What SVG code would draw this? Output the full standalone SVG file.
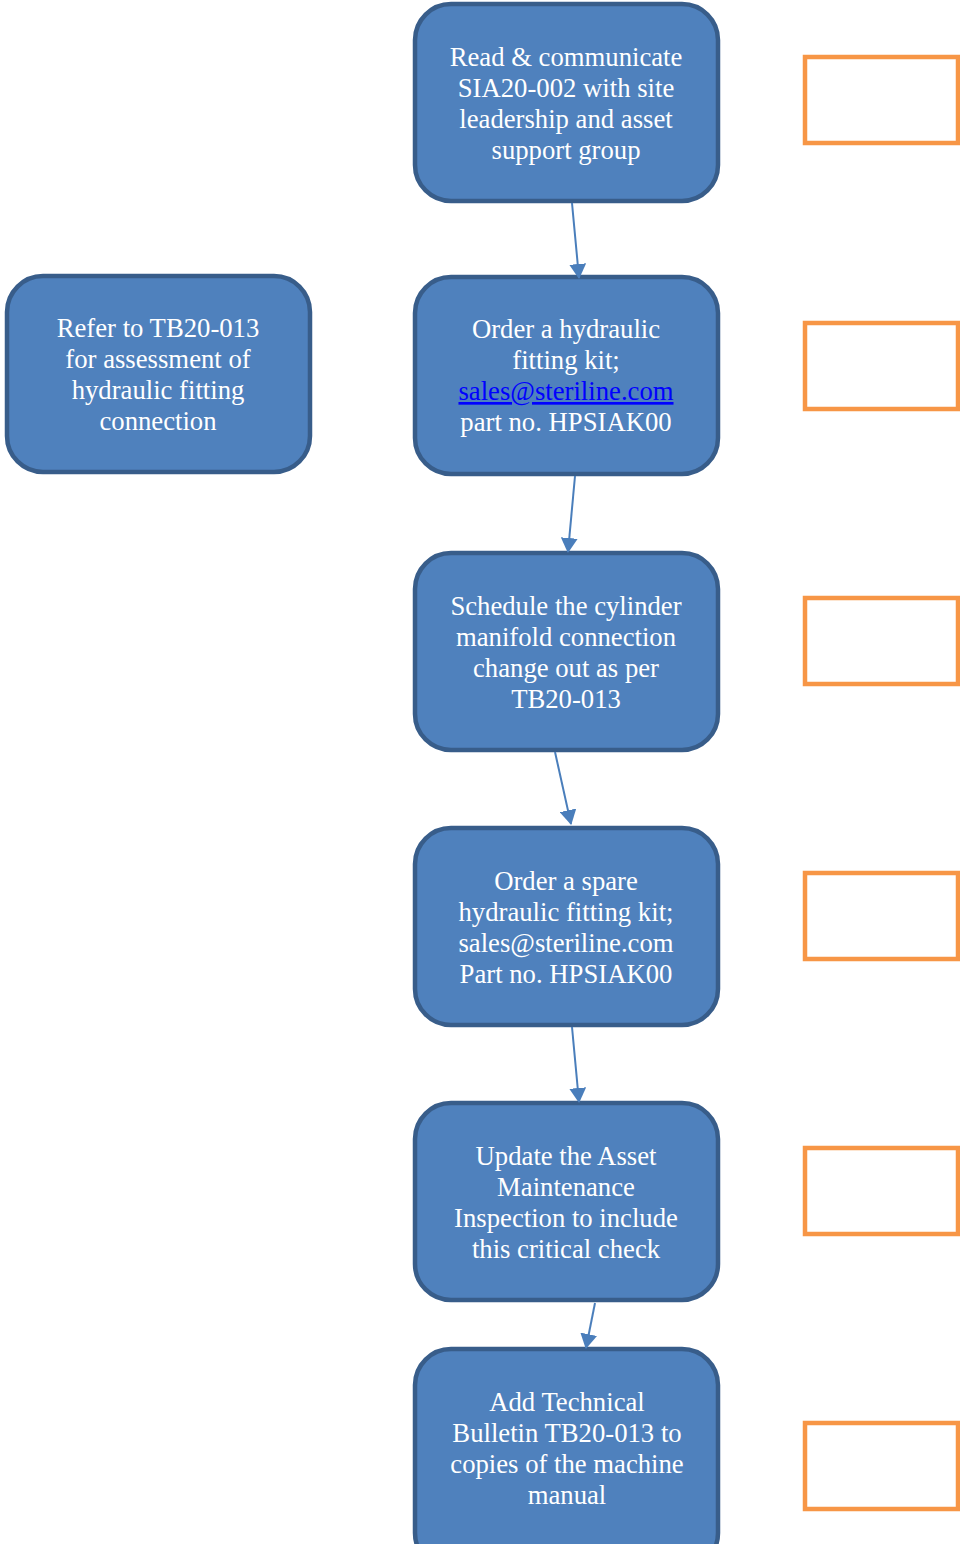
<svg xmlns="http://www.w3.org/2000/svg" width="960" height="1544" viewBox="0 0 960 1544">
<defs>
<style>
.node rect{fill:#4F81BD;stroke:#385D8A;stroke-width:4.5}
.node text{font-family:"Liberation Serif","Times New Roman",serif;font-size:26.7px;fill:#FFFFFF;text-anchor:middle}
.node text.link{fill:#0000FF;text-decoration:underline}
.box{fill:none;stroke:#F79646;stroke-width:4.5}
.conn line{stroke:#4A7EBB;stroke-width:2;fill:none}
</style>
<marker id="ah" viewBox="0 0 15 17" refX="14" refY="8.5" markerWidth="15" markerHeight="17" markerUnits="userSpaceOnUse" orient="auto">
<path d="M0,0 L15,8.5 L0,17 z" fill="#4A7EBB"/>
</marker>
</defs>
<rect width="960" height="1544" fill="#FFFFFF"/>

<g id="n1" class="node">
<rect x="415" y="4" width="303" height="197" rx="36"/>
<text x="566" y="66">Read &amp; communicate</text>
<text x="566" y="97">SIA20-002 with site</text>
<text x="566" y="128">leadership and asset</text>
<text x="566" y="159">support group</text>
</g>

<g id="n2" class="node">
<rect x="415" y="277" width="303" height="197" rx="36"/>
<text x="566" y="338">Order a hydraulic</text>
<text x="566" y="369">fitting kit;</text>
<text x="566" y="400" class="link">sales@steriline.com</text>
<text x="566" y="431">part no. HPSIAK00</text>
</g>

<g id="n3" class="node">
<rect x="415" y="553" width="303" height="197" rx="36"/>
<text x="566" y="615">Schedule the cylinder</text>
<text x="566" y="646">manifold connection</text>
<text x="566" y="677">change out as per</text>
<text x="566" y="708">TB20-013</text>
</g>

<g id="n4" class="node">
<rect x="415" y="828" width="303" height="197" rx="36"/>
<text x="566" y="890">Order a spare</text>
<text x="566" y="921">hydraulic fitting kit;</text>
<text x="566" y="952">sales@steriline.com</text>
<text x="566" y="983">Part no. HPSIAK00</text>
</g>

<g id="n5" class="node">
<rect x="415" y="1103" width="303" height="197" rx="36"/>
<text x="566" y="1165">Update the Asset</text>
<text x="566" y="1196">Maintenance</text>
<text x="566" y="1227">Inspection to include</text>
<text x="566" y="1258">this critical check</text>
</g>

<g id="n6" class="node">
<rect x="415" y="1349" width="303" height="220" rx="36"/>
<text x="567" y="1411">Add Technical</text>
<text x="567" y="1442">Bulletin TB20-013 to</text>
<text x="567" y="1473">copies of the machine</text>
<text x="567" y="1504">manual</text>
</g>

<g id="n7" class="node">
<rect x="7" y="276" width="303" height="196" rx="36"/>
<text x="158" y="337">Refer to TB20-013</text>
<text x="158" y="368">for assessment of</text>
<text x="158" y="399">hydraulic fitting</text>
<text x="158" y="430">connection</text>
</g>

<g id="o1"><rect class="box" x="805" y="57" width="153" height="86"/></g>
<g id="o2"><rect class="box" x="805" y="323" width="153" height="86"/></g>
<g id="o3"><rect class="box" x="805" y="598" width="153" height="86"/></g>
<g id="o4"><rect class="box" x="805" y="873" width="153" height="86"/></g>
<g id="o5"><rect class="box" x="805" y="1148" width="153" height="86"/></g>
<g id="o6"><rect class="box" x="805" y="1423" width="153" height="86"/></g>

<g id="connectors" class="conn">
<line x1="572" y1="203" x2="579" y2="278" marker-end="url(#ah)"/>
<line x1="575" y1="476" x2="568" y2="552" marker-end="url(#ah)"/>
<line x1="555" y1="752" x2="571" y2="824" marker-end="url(#ah)"/>
<line x1="572" y1="1027" x2="579" y2="1102" marker-end="url(#ah)"/>
<line x1="595" y1="1303" x2="586" y2="1348" marker-end="url(#ah)"/>
</g>
</svg>
